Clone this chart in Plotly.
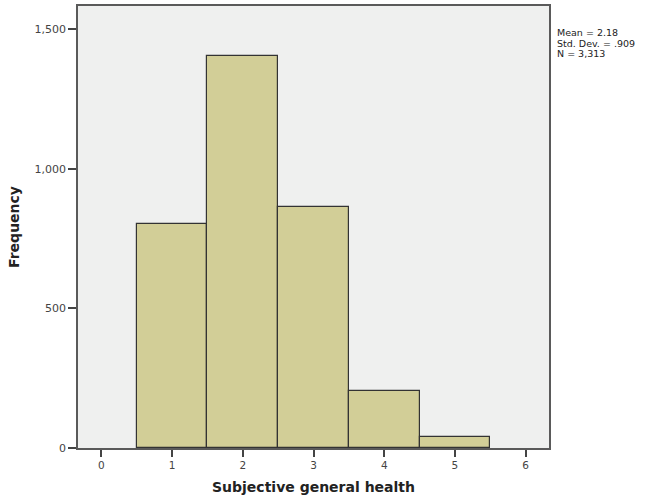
import plotly.graph_objects as go

categories = [1, 2, 3, 4, 5]
frequencies = [803, 1403, 864, 205, 38]
x_ticks = [0, 1, 2, 3, 4, 5, 6]
y_ticks = [0, 500, 1000, 1500]
stats_lines = ["Mean = 2.18", "Std. Dev. = .909", "N = 3,313"]

fig = go.Figure()
fig.add_trace(go.Bar(
    x=categories, y=frequencies, width=1,
    marker=dict(color="#D2CE97", line=dict(color="#333333", width=1.2)),
    showlegend=False, hoverinfo="x+y",
))

fig.update_layout(
    width=661, height=496,
    margin=dict(l=77.5, r=111.5, t=6, b=47.5),
    paper_bgcolor="white", plot_bgcolor="#EFF0EF",
    bargap=0,
    font=dict(family="DejaVu Sans", color="#444444"),
)
fig.update_xaxes(
    range=[-0.33, 6.33], tickvals=x_ticks, ticktext=[str(v) for v in x_ticks],
    ticks="outside", ticklen=7, tickwidth=1.5, tickcolor="#444444",
    tickfont=dict(size=10.5, color="#444444"),
    showline=True, linecolor="#5A5A5A", linewidth=1.5, mirror=True,
    showgrid=False, zeroline=False, automargin=False,
    title=dict(text="<b>Subjective general health</b>", font=dict(size=14, color="#222222"), standoff=12),
)
fig.update_yaxes(
    range=[0, 1583], tickvals=y_ticks, tickformat=",",
    ticks="outside", ticklen=8, tickwidth=1.5, tickcolor="#444444",
    tickfont=dict(size=11, color="#444444"),
    showline=True, linecolor="#5A5A5A", linewidth=1.5, mirror=True,
    showgrid=False, zeroline=False, automargin=False,
    title=dict(text="<b>Frequency</b>", font=dict(size=14, color="#222222"), standoff=12),
)

for i, line in enumerate(stats_lines):
    fig.add_annotation(
        text=line, xref="paper", yref="paper",
        x=1.013, y=0.939 - i * 0.0235, xanchor="left", yanchor="middle",
        showarrow=False, font=dict(family="DejaVu Sans", size=9.5, color="#222222"),
    )

fig.write_html("out.html", config={"displayModeBar": False},
               post_script="document.body.style.margin='0';")
